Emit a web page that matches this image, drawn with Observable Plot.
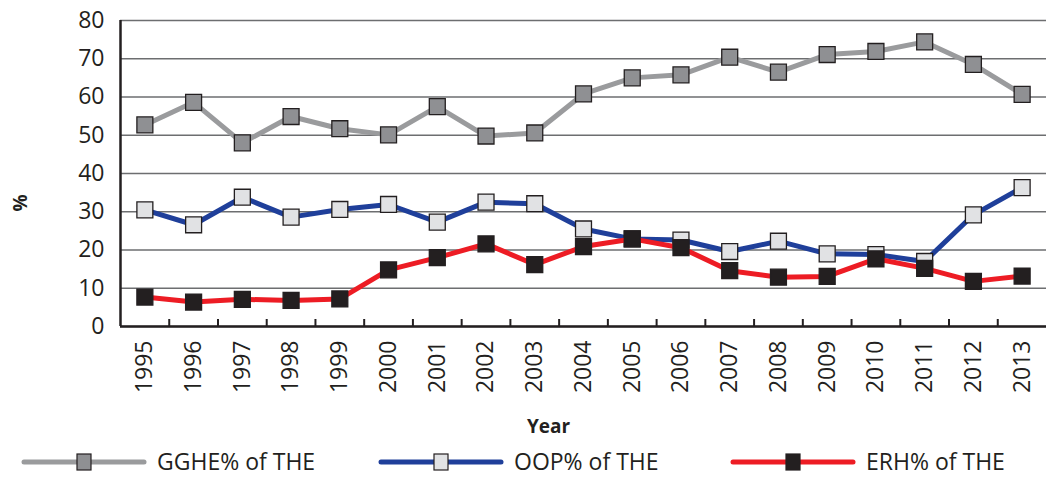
<!DOCTYPE html>
<html><head><meta charset="utf-8">
<script src="https://cdn.jsdelivr.net/npm/d3@7"></script>
<script src="https://cdn.jsdelivr.net/npm/@observablehq/plot@0.6"></script>
<style>
body{margin:0;background:#fff;font-family:"Open Sans",sans-serif;}
#chart{width:1046px;}
#chart svg{display:block;}
</style></head><body><div id="chart"></div>
<script>
const years = [1995,1996,1997,1998,1999,2000,2001,2002,2003,2004,2005,2006,2007,2008,2009,2010,2011,2012,2013];
const gghe = [52.7,58.6,48.0,54.9,51.7,50.1,57.5,49.8,50.6,60.8,65.0,65.8,70.4,66.5,71.1,71.9,74.4,68.5,60.7];
const oop  = [30.5,26.6,33.8,28.6,30.6,31.9,27.3,32.5,32.1,25.5,22.9,22.6,19.6,22.3,19.0,18.8,17.0,29.2,36.3];
const erh  = [7.7,6.4,7.1,6.8,7.2,14.8,18.0,21.6,16.2,20.9,22.9,20.6,14.6,12.9,13.1,17.7,15.2,11.8,13.2];
const yTicks = [0,10,20,30,40,50,60,70,80];
const seriesNames = ["GGHE% of THE","OOP% of THE","ERH% of THE"];
const lineColors = ["#9a9b9d","#1f3f9a","#ed1c24"];
const markerFills = ["#8f9093","#e1e2e4","#231f20"];
const seriesValues = [gghe, oop, erh];

const ink = "#231f20";
const boundaries = years.slice(1).map(y => y - 0.5);

const marks = [
  Plot.gridY(yTicks, {stroke: "#6d6e70", strokeOpacity: 1, strokeWidth: 1.5})
];
seriesValues.forEach((vals, s) => {
  const rows = years.map((y, i) => ({year: y, value: vals[i]}));
  marks.push(Plot.line(rows, {x: "year", y: "value", stroke: lineColors[s], strokeWidth: 5}));
  marks.push(Plot.dot(rows, {x: "year", y: "value", symbol: "square", r: 9, fill: markerFills[s], stroke: ink, strokeWidth: 1.3}));
});
marks.push(
  Plot.ruleY([0], {stroke: ink, strokeWidth: 2.5}),
  Plot.ruleX([years[0] - 0.5], {stroke: ink, strokeWidth: 2.5}),
  Plot.axisX({ticks: boundaries, tickSize: 7, dy: -7, tickFormat: () => "", stroke: ink, strokeWidth: 2, label: null}),
  Plot.axisX({ticks: years, tickSize: 0, tickPadding: 14, tickRotate: -90, tickFormat: d => String(d), fontSize: 23, fill: ink, label: null}),
  Plot.axisY({ticks: yTicks, tickSize: 0, tickPadding: 16, fontSize: 23, fill: ink, label: null}),
  Plot.text(["Year"], {frameAnchor: "bottom", dx: -35, dy: 106, fontWeight: "bold", fontSize: 19, fill: ink}),
  Plot.text(["%"], {frameAnchor: "left", dx: -100, dy: 38, rotate: -90, fontWeight: "bold", fontSize: 19, fill: ink})
);

const chart = Plot.plot({
  width: 1046,
  height: 440,
  marginTop: 20,
  marginBottom: 114,
  marginLeft: 120,
  marginRight: 0,
  x: {type: "linear", domain: [years[0] - 0.5, years[years.length - 1] + 0.5]},
  y: {domain: [0, 80]},
  style: {fontFamily: "Open Sans", fontSize: "22px", color: ink, background: "#fff"},
  marks
});
document.getElementById("chart").appendChild(chart);

// Legend below the chart
const legendX = [24, 381, 733];
const leg = d3.select("#chart").append("svg").attr("width", 1046).attr("height", 38);
seriesNames.forEach((name, s) => {
  const g = leg.append("g").attr("transform", `translate(${legendX[s]},22)`);
  g.append("line").attr("x1", 0).attr("x2", 120).attr("y1", 0).attr("y2", 0)
    .attr("stroke", lineColors[s]).attr("stroke-width", 5).attr("stroke-linecap", "round");
  g.append("rect").attr("x", 53).attr("y", -8).attr("width", 14).attr("height", 16)
    .attr("fill", markerFills[s]).attr("stroke", ink).attr("stroke-width", 1.2);
  g.append("text").attr("x", 133).attr("y", 0).attr("dy", "0.35em")
    .attr("font-family", "Open Sans").attr("font-size", 23).attr("fill", ink).text(name);
});
</script>
</body></html>
